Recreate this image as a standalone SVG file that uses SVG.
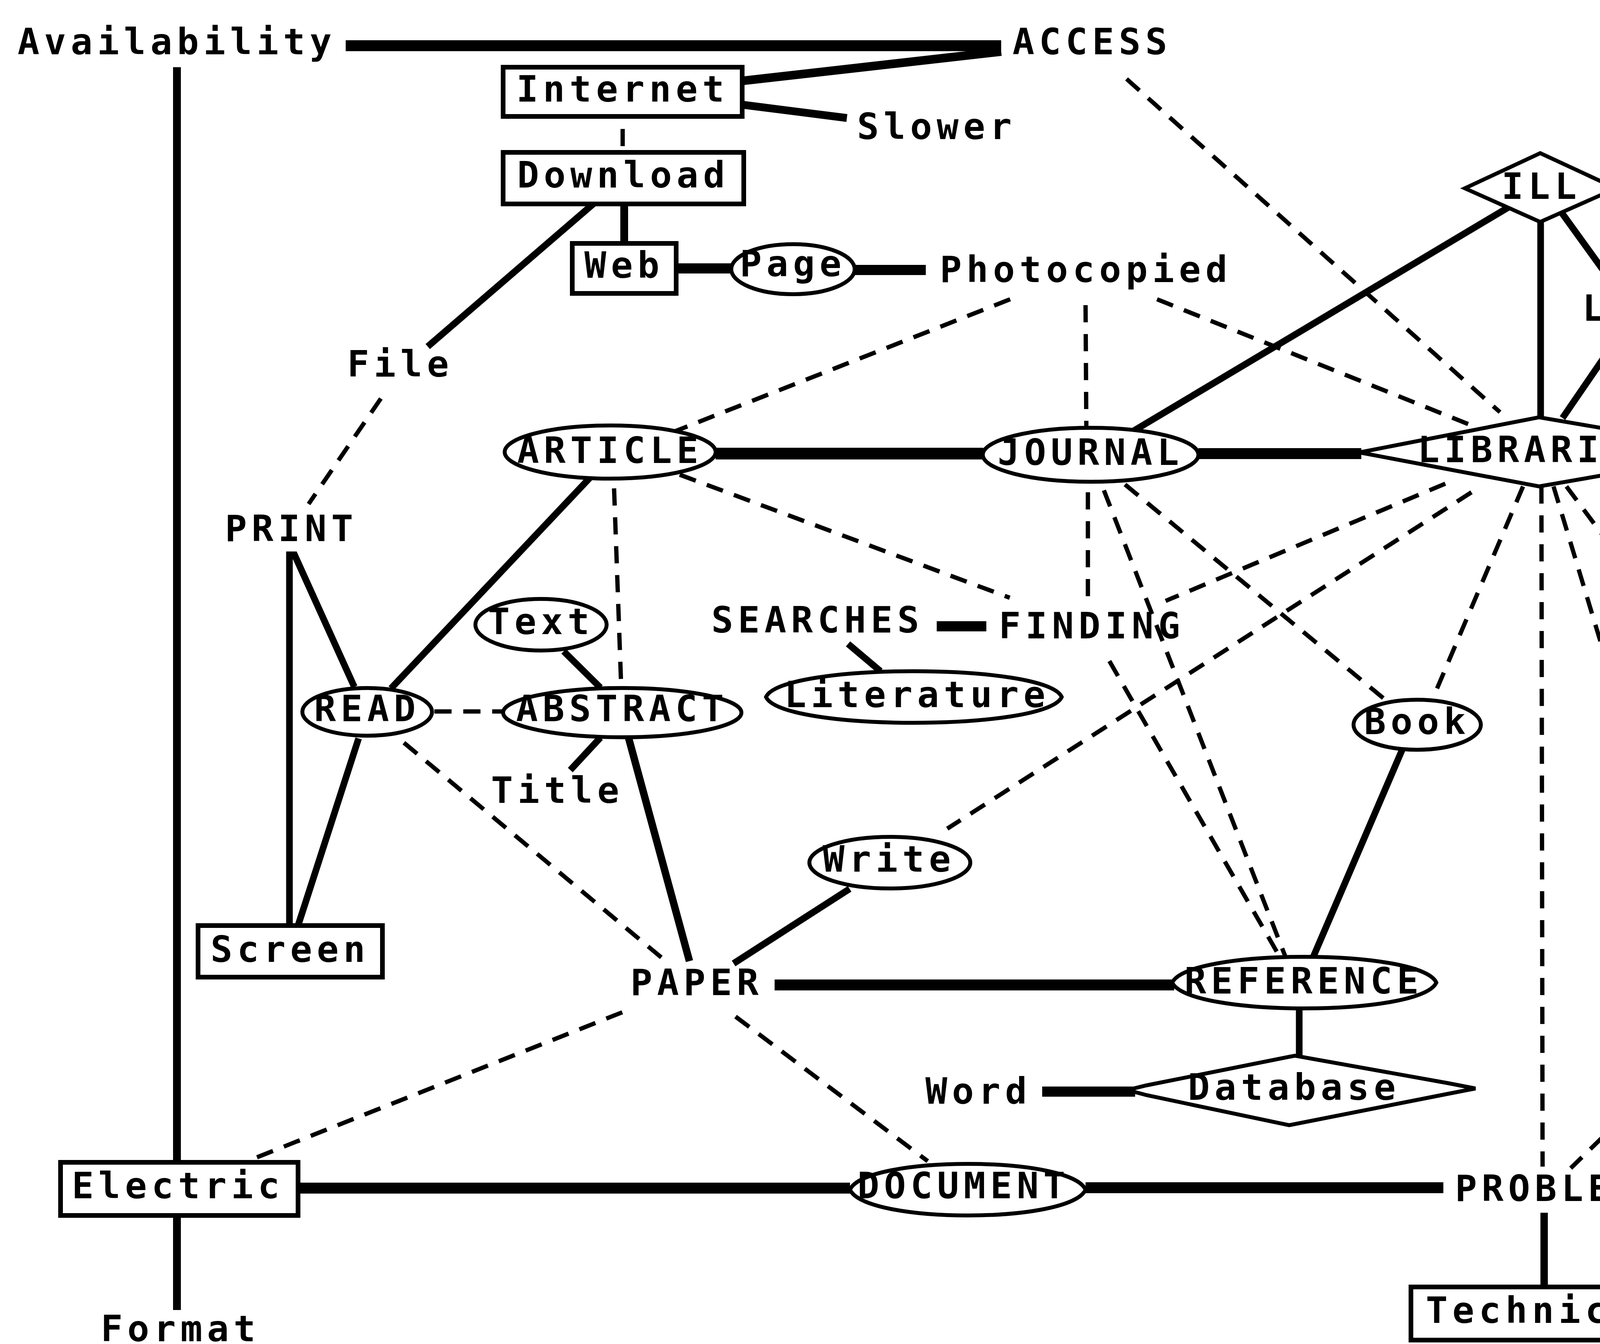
<svg xmlns="http://www.w3.org/2000/svg" width="5203" height="3440" viewBox="0 0 5203 3440">
<style>
text{font-family:"DejaVu Sans Mono","Liberation Mono",monospace;font-weight:bold;font-size:93px;letter-spacing:12px;text-anchor:middle;fill:#000}
.s{fill:none;stroke:#000;stroke-width:17;stroke-linecap:butt}
.h{fill:none;stroke:#000;stroke-width:28}
.d{fill:none;stroke:#000;stroke-width:11;stroke-dasharray:44 30}
.n{fill:#fff;stroke:#000;stroke-width:10}
.b{fill:#fff;stroke:#000;stroke-width:12}
</style>
<rect width="5203" height="3440" fill="#fff"/>
<g id="connectors">
<path class="h" d="M885,117 H2563"/>
<path class="h" style="stroke-width:22" d="M1900,207 L2563,132"/>
<path class="h" style="stroke-width:20" d="M1900,268 L2168,302"/>
<path class="s" style="stroke-width:20" d="M453,172 V3353"/>
<path class="s" style="stroke-width:11" d="M1594,330 V374"/>
<path class="s" style="stroke-width:20" d="M1598,522 V623"/>
<path class="s" d="M1521,520 L1095,887"/>
<path class="h" style="stroke-width:26" d="M1731,687 H1872"/>
<path class="h" style="stroke-width:26" d="M2187,691 H2370"/>
<path class="h" style="stroke-width:30" d="M1832,1161 H2517"/>
<path class="h" d="M3068,1161 H3485"/>
<path class="s" d="M2895,1107 L3861,531"/>
<path class="s" d="M3944,568 V1068"/>
<path class="s" d="M3999,546 L4137,737"/>
<path class="s" d="M4148,854 L4000,1070"/>
<path class="s" d="M4861,561 L4624,854"/>
<path class="s" d="M4922,561 V1078"/>
<path class="s" d="M4828,1194 L4646,1342"/>
<path class="s" d="M4922,1198 V1634"/>
<path class="s" d="M4629,1476 L4856,1634"/>
<path class="s" d="M1510,1223 L1001,1762"/>
<path class="s" d="M907,1758 L754,1420 L741,1420 V2369"/>
<path class="s" d="M918,1890 L763,2369"/>
<path class="s" d="M1443,1667 L1537,1760"/>
<path class="s" d="M1537,1888 L1460,1971"/>
<path class="s" style="stroke-width:19" d="M1609,1888 L1765,2460"/>
<path class="h" style="stroke-width:26" d="M2398,1603 H2525"/>
<path class="s" d="M2171,1648 L2254,1718"/>
<path class="s" d="M2175,2275 L1878,2466"/>
<path class="h" d="M1983,2521 H3006"/>
<path class="s" d="M3590,1918 L3362,2449"/>
<path class="s" d="M3326,2583 V2704"/>
<path class="h" style="stroke-width:26" d="M2668,2794 H2906"/>
<path class="s" style="stroke-width:19" d="M4585,2092 L4425,2543"/>
<path class="h" d="M763,3041 H2176"/>
<path class="h" d="M2779,3040 H3695"/>
<path class="s" style="stroke-width:19" d="M3953,3104 V3294"/>
<path class="d" d="M975,1020 L790,1290"/>
<path class="d" d="M2586,766 L1725,1105"/>
<path class="d" d="M2779,781 L2781,1092"/>
<path class="d" d="M2962,766 L3770,1090"/>
<path class="d" d="M2884,202 L3840,1055"/>
<path class="d" d="M1572,1250 L1590,1750"/>
<path class="d" d="M1740,1215 L2585,1530"/>
<path class="d" d="M1112,1821 L1288,1821"/>
<path class="d" d="M1034,1901 L1703,2459"/>
<path class="d" d="M2785,1260 L2785,1546"/>
<path class="d" d="M2826,1255 L3290,2447"/>
<path class="d" d="M2840,1692 L3275,2447"/>
<path class="d" d="M2880,1240 L3545,1790"/>
<path class="d" d="M3700,1238 L2984,1538"/>
<path class="d" d="M3767,1260 L2425,2121"/>
<path class="d" d="M3899,1245 L3667,1790"/>
<path class="d" d="M3946,1245 L3949,2986"/>
<path class="d" d="M3977,1245 L4369,2540"/>
<path class="d" d="M4010,1245 L4546,1964"/>
<path class="d" d="M4386,986 L4143,1081"/>
<path class="d" d="M1593,2591 L653,2964"/>
<path class="d" d="M1883,2602 L2375,2972"/>
<path class="d" d="M4315,2704 L4021,2990"/>
</g>
<g id="availability"><text x="453" y="139">Availability</text></g>
<g id="access"><text x="2796" y="139">ACCESS</text></g>
<g id="internet"><rect class="b" x="1288" y="172" width="612" height="126"/><text x="1594" y="260">Internet</text></g>
<g id="slower"><text x="2398" y="356">Slower</text></g>
<g id="download"><rect class="b" x="1288" y="390" width="616" height="132"/><text x="1596" y="480">Download</text></g>
<g id="web"><rect class="b" x="1465" y="623" width="266" height="128"/><text x="1598" y="711">Web</text></g>
<g id="page"><ellipse class="n" cx="2030" cy="689" rx="158" ry="64"/><text x="2030" y="707">Page</text></g>
<g id="photocopied"><text x="2780" y="722">Photocopied</text></g>
<g id="file"><text x="1025" y="964">File</text></g>
<g id="ill"><polygon class="n" points="3750,482 3943,392 4137,482 3943,568"/><text x="3946" y="509">ILL</text></g>
<g id="loan"><text x="4187" y="821">LOAN</text></g>
<g id="computer"><rect class="b" x="4618" y="429" width="578" height="132"/><text x="4914" y="517">Computer</text></g>
<g id="people"><text x="4585" y="938">People</text></g>
<g id="office"><text x="4922" y="1160">Office</text></g>
<g id="article"><ellipse class="n" cx="1562" cy="1157" rx="270" ry="68"/><text x="1562" y="1185">ARTICLE</text></g>
<g id="journal"><ellipse class="n" cx="2792" cy="1164" rx="276" ry="69"/><text x="2792" y="1190">JOURNAL</text></g>
<g id="libraries"><polygon class="n" points="3480,1158 3940,1068 4360,1140 4420,1143 4452,1156 4420,1169 4360,1172 3940,1245"/><text x="3935" y="1183">LIBRARIES</text></g>
<g id="network"><rect class="b" x="4281" y="1342" width="545" height="134"/><text x="4553" y="1432">Network</text></g>
<g id="printer"><rect class="b" x="4657" y="1634" width="540" height="132"/><text x="4928" y="1725">Printer</text></g>
<g id="print"><text x="746" y="1385">PRINT</text></g>
<g id="text"><ellipse class="n" cx="1385" cy="1599" rx="168" ry="66"/><text x="1385" y="1623">Text</text></g>
<g id="searches"><text x="2093" y="1619">SEARCHES</text></g>
<g id="finding"><text x="2795" y="1634">FINDING</text></g>
<g id="literature"><path class="n" d="M1961,1784 C2000,1696 2679,1696 2718,1784 C2679,1872 2000,1872 1961,1784 Z"/><text x="2348" y="1810">Literature</text></g>
<g id="read"><ellipse class="n" cx="940" cy="1822" rx="166" ry="61"/><text x="940" y="1846">READ</text></g>
<g id="abstract"><ellipse class="n" cx="1593" cy="1824" rx="305" ry="63"/><text x="1593" y="1846">ABSTRACT</text></g>
<g id="title"><text x="1427" y="2055">Title</text></g>
<g id="book"><ellipse class="n" cx="3628" cy="1855" rx="163" ry="64"/><text x="3628" y="1879">Book</text></g>
<g id="time"><text x="4611" y="2055">TIME</text></g>
<g id="write"><ellipse class="n" cx="2278" cy="2208" rx="206" ry="66"/><text x="2276" y="2231">Write</text></g>
<g id="screen"><rect class="b" x="507" y="2369" width="472" height="132"/><text x="743" y="2462">Screen</text></g>
<g id="paper"><text x="1784" y="2547">PAPER</text></g>
<g id="reference"><path class="n" d="M3001,2515 C3041,2427 3637,2427 3677,2515 C3637,2603 3041,2603 3001,2515 Z"/><text x="3338" y="2543">REFERENCE</text></g>
<g id="system"><rect class="b" x="4168" y="2543" width="475" height="132"/><text x="4405" y="2634">SYSTEM</text></g>
<g id="word"><text x="2505" y="2825">Word</text></g>
<g id="database"><polygon class="n" points="2886,2790 2935,2778 3315,2702 3705,2772 3777,2786 3705,2800 3300,2880 2935,2803"/><text x="3313" y="2815">Database</text></g>
<g id="electric"><rect class="b" x="155" y="2975" width="608" height="136"/><text x="456" y="3067">Electric</text></g>
<g id="document"><path class="n" d="M2176,3045 C2215,2957 2740,2957 2779,3045 C2740,3133 2215,3133 2176,3045 Z"/><text x="2467" y="3067">DOCUMENT</text></g>
<g id="problem"><text x="3963" y="3074">PROBLEM</text></g>
<g id="technical"><rect class="b" x="3612" y="3294" width="688" height="136"/><text x="3956" y="3386">Technical</text></g>
<g id="format"><text x="462" y="3433">Format</text></g>
</svg>
